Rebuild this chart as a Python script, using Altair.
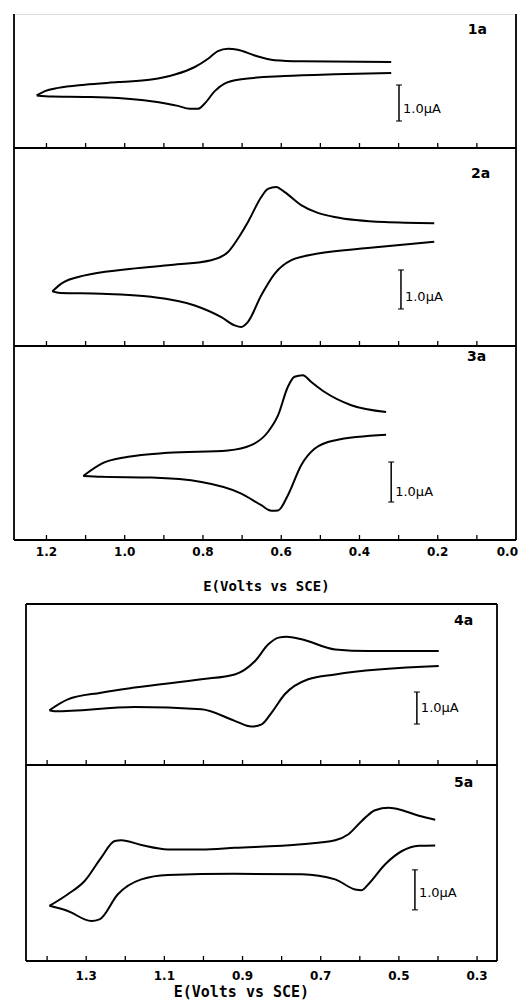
import altair as alt
import pandas as pd

FONT = "DejaVu Sans"
TITLE_FONT = "DejaVu Sans Mono"

# ---------------- data (E in V vs SCE, current in uA, arbitrary offset) ----------------
# panel 1a
p1_up_E = [0.319, 0.549, 0.617, 0.668, 0.711, 0.736, 0.762, 0.787, 0.821, 0.872, 0.932, 1.017, 1.102, 1.170, 1.204, 1.225]
p1_up_i = [2.39, 2.41, 2.44, 2.57, 2.73, 2.76, 2.69, 2.48, 2.25, 2.04, 1.90, 1.83, 1.76, 1.67, 1.58, 1.46]
p1_lo_E = [1.225, 1.187, 1.102, 1.017, 0.932, 0.864, 0.834, 0.813, 0.796, 0.770, 0.745, 0.702, 0.592, 0.464, 0.319]
p1_lo_i = [1.46, 1.43, 1.42, 1.39, 1.30, 1.17, 1.09, 1.09, 1.23, 1.58, 1.79, 1.91, 2.00, 2.05, 2.08]

# panel 2a
p2_up_E = [0.209, 0.336, 0.464, 0.549, 0.592, 0.613, 0.634, 0.651, 0.685, 0.711, 0.736, 0.779, 0.889, 1.000, 1.102, 1.162, 1.185]
p2_up_i = [3.15, 3.18, 3.31, 3.61, 3.95, 4.08, 4.03, 3.82, 3.18, 2.75, 2.41, 2.20, 2.07, 1.96, 1.81, 1.60, 1.40]
p2_lo_E = [1.185, 1.165, 1.059, 0.932, 0.821, 0.753, 0.719, 0.702, 0.685, 0.651, 0.617, 0.574, 0.506, 0.379, 0.209]
p2_lo_i = [1.40, 1.36, 1.34, 1.26, 1.04, 0.74, 0.53, 0.49, 0.62, 1.30, 1.85, 2.20, 2.37, 2.51, 2.67]

# panel 3a
p3_up_E = [0.332, 0.421, 0.489, 0.523, 0.545, 0.566, 0.583, 0.608, 0.634, 0.677, 0.736, 0.889, 0.991, 1.059, 1.106]
p3_up_i = [3.20, 3.37, 3.70, 3.95, 4.12, 4.08, 3.83, 3.12, 2.70, 2.37, 2.24, 2.18, 2.08, 1.91, 1.60]
p3_lo_E = [1.106, 1.059, 0.932, 0.804, 0.702, 0.651, 0.625, 0.608, 0.583, 0.549, 0.515, 0.464, 0.332]
p3_lo_i = [1.60, 1.58, 1.56, 1.45, 1.16, 0.87, 0.73, 0.74, 1.12, 1.87, 2.28, 2.49, 2.63]

# panel 4a
p4_up_E = [0.398, 0.578, 0.663, 0.749, 0.787, 0.808, 0.834, 0.868, 0.920, 1.005, 1.176, 1.262, 1.347, 1.394]
p4_up_i = [3.56, 3.56, 3.61, 3.93, 4.01, 3.98, 3.77, 3.25, 2.83, 2.68, 2.42, 2.26, 2.05, 1.71]
p4_lo_E = [1.394, 1.381, 1.176, 1.005, 0.920, 0.877, 0.851, 0.826, 0.792, 0.732, 0.663, 0.398]
p4_lo_i = [1.71, 1.68, 1.81, 1.74, 1.38, 1.20, 1.27, 1.63, 2.21, 2.68, 2.83, 3.09]

# panel 5a
p5_up_E = [0.407, 0.449, 0.492, 0.526, 0.561, 0.595, 0.629, 0.663, 0.749, 0.920, 1.005, 1.091, 1.159, 1.210, 1.227, 1.262, 1.304, 1.347, 1.394]
p5_up_i = [3.53, 3.63, 3.77, 3.83, 3.77, 3.50, 3.17, 3.02, 2.92, 2.83, 2.79, 2.79, 2.90, 3.02, 3.00, 2.58, 2.00, 1.67, 1.38]
p5_lo_E = [1.394, 1.347, 1.287, 1.266, 1.219, 1.159, 1.091, 0.920, 0.749, 0.663, 0.612, 0.595, 0.578, 0.535, 0.492, 0.449, 0.407]
p5_lo_i = [1.38, 1.25, 1.00, 1.04, 1.67, 2.04, 2.15, 2.18, 2.17, 2.04, 1.79, 1.77, 1.92, 2.42, 2.75, 2.88, 2.89]

top_ticks = [1.2, 1.1, 1.0, 0.9, 0.8, 0.7, 0.6, 0.5, 0.4, 0.3, 0.2, 0.1]
top_labels = [1.2, 1.0, 0.8, 0.6, 0.4, 0.2]
top_edge_label = [0.0]
bot_ticks = [1.4, 1.3, 1.2, 1.1, 1.0, 0.9, 0.8, 0.7, 0.6, 0.5, 0.4, 0.3]
bot_labels = [1.3, 1.1, 0.9, 0.7, 0.5, 0.3]

panel_names = ["1a", "2a", "3a", "4a", "5a"]
scale_text = "1.0\u03bcA"
x_title = "E(Volts vs SCE)"

# ---------------- helpers ----------------
one = pd.DataFrame({"k": [0]})


def curve_df(upE, upI, loE, loI):
    return pd.DataFrame({
        "E": upE + loE,
        "i": upI + loI,
        "branch": ["up"] * len(upE) + ["lo"] * len(loE),
    })


def panel(df, xs, W, H, ymax, ticks, barE, barLo, txtI, label, labE, labI,
          top_border=True, labels=None, edge_labels=None, title_E=None,
          lab_dy=12, title_dy=47, title_size=13):
    ys = alt.Scale(domain=[0, ymax], nice=False, zero=False)

    def XD(v):
        return alt.XDatum(v, type="quantitative", scale=xs, axis=None)

    def YD(v):
        return alt.YDatum(v, type="quantitative", scale=ys, axis=None)

    layers = []
    layers.append(
        alt.Chart(df).mark_line(color="black", strokeWidth=2, interpolate="monotone").encode(
            x=alt.X("E:Q", scale=xs, axis=None),
            y=alt.Y("i:Q", scale=ys, axis=None),
            detail="branch:N",
            order=alt.Order("E:Q", sort="descending"),
        )
    )
    layers.append(
        alt.Chart(pd.DataFrame({"E": ticks})).mark_rule(color="black", strokeWidth=1.3).encode(
            x=alt.X("E:Q", scale=xs, axis=None), y=alt.value(H), y2=alt.value(H - 5)
        )
    )

    def rule(**enc):
        return alt.Chart(one).mark_rule(color="black", strokeWidth=1.8).encode(**enc)

    layers.append(rule(x=alt.value(0), y=alt.value(0), y2=alt.value(H)))
    layers.append(rule(x=alt.value(W), y=alt.value(0), y2=alt.value(H)))
    layers.append(rule(x=alt.value(0), x2=alt.value(W), y=alt.value(H)))
    if top_border:
        layers.append(rule(x=alt.value(0), x2=alt.value(W), y=alt.value(0)))

    # scale bar
    layers.append(
        alt.Chart(one).mark_rule(color="black", strokeWidth=1.5).encode(
            x=XD(barE), y=YD(barLo), y2=alt.Y2Datum(barLo + 1.0)
        )
    )
    layers.append(
        alt.Chart(pd.DataFrame({"c": [barLo, barLo + 1.0]})).mark_tick(
            color="black", orient="horizontal", size=6, thickness=1.5
        ).encode(x=XD(barE), y=alt.Y("c:Q", scale=ys, axis=None))
    )
    layers.append(
        alt.Chart(one).mark_text(text=scale_text, align="left", baseline="middle", dx=4,
                                 font=FONT, fontSize=13, color="black").encode(
            x=XD(barE), y=YD(txtI))
    )
    layers.append(
        alt.Chart(one).mark_text(text=label, align="left", baseline="middle",
                                 font=FONT, fontSize=14, fontWeight="bold", color="black").encode(
            x=XD(labE), y=YD(labI))
    )
    if labels is not None:
        layers.append(
            alt.Chart(pd.DataFrame({"E": labels})).mark_text(
                font=FONT, fontSize=12, fontWeight="bold", color="black", baseline="middle"
            ).encode(
                x=alt.X("E:Q", scale=xs, axis=None),
                y=alt.value(H + lab_dy),
                text=alt.Text("E:Q", format=".1f"),
            )
        )
        if edge_labels is not None:
            layers.append(
                alt.Chart(pd.DataFrame({"E": edge_labels})).mark_text(
                    font=FONT, fontSize=12, fontWeight="bold", color="black", baseline="middle",
                    align="right", dx=2
                ).encode(
                    x=alt.X("E:Q", scale=xs, axis=None),
                    y=alt.value(H + lab_dy),
                    text=alt.Text("E:Q", format=".1f"),
                )
            )
        layers.append(
            alt.Chart(one).mark_text(text=x_title, font=TITLE_FONT, fontSize=title_size,
                                     fontWeight="bold", color="black", baseline="middle").encode(
                x=XD(title_E), y=alt.value(H + title_dy))
        )
    return alt.layer(*layers).properties(width=W, height=H)


xs_top = alt.Scale(domain=[0.0, 1.283], reverse=True, nice=False, zero=False)
xs_bot = alt.Scale(domain=[0.249, 1.454], reverse=True, nice=False, zero=False)

WT, WB = 502, 471

p1 = panel(curve_df(p1_up_E, p1_up_i, p1_lo_E, p1_lo_i), xs_top, WT, 134, 134 / 36, top_ticks,
           0.299, 0.75, 1.08, panel_names[0], 0.123, 3.28, top_border=False)
p2 = panel(curve_df(p2_up_E, p2_up_i, p2_lo_E, p2_lo_i), xs_top, WT, 198, 198 / 39, top_ticks,
           0.294, 0.95, 1.26, panel_names[1], 0.115, 4.41)
p3 = panel(curve_df(p3_up_E, p3_up_i, p3_lo_E, p3_lo_i), xs_top, WT, 194, 194 / 40, top_ticks,
           0.319, 0.95, 1.20, panel_names[2], 0.125, 4.575, labels=top_labels,
           edge_labels=top_edge_label, title_E=0.638, lab_dy=12, title_dy=47, title_size=14)
p4 = panel(curve_df(p4_up_E, p4_up_i, p4_lo_E, p4_lo_i), xs_bot, WB, 161, 161 / 32, bot_ticks,
           0.454, 1.28, 1.78, panel_names[3], 0.359, 4.5)
p5 = panel(curve_df(p5_up_E, p5_up_i, p5_lo_E, p5_lo_i), xs_bot, WB, 196, 196 / 40, bot_ticks,
           0.459, 1.28, 1.70, panel_names[4], 0.359, 4.45, labels=bot_labels, title_E=0.903,
           lab_dy=15, title_dy=31, title_size=15)

top_block = alt.vconcat(p1, p2, p3, spacing=0, bounds="flush")
spacer = alt.Chart(one).mark_point(opacity=0, size=1).properties(width=9.5, height=10)
bottom_block = alt.hconcat(spacer, alt.vconcat(p4, p5, spacing=0, bounds="flush"), spacing=0)

chart = alt.vconcat(top_block, bottom_block, spacing=7).properties(
    padding={"left": 4, "top": 4, "right": 0, "bottom": 0}
).configure_view(stroke="transparent").configure(background="white")

chart.save("out.html", embed_options={"renderer": "svg", "actions": False})
